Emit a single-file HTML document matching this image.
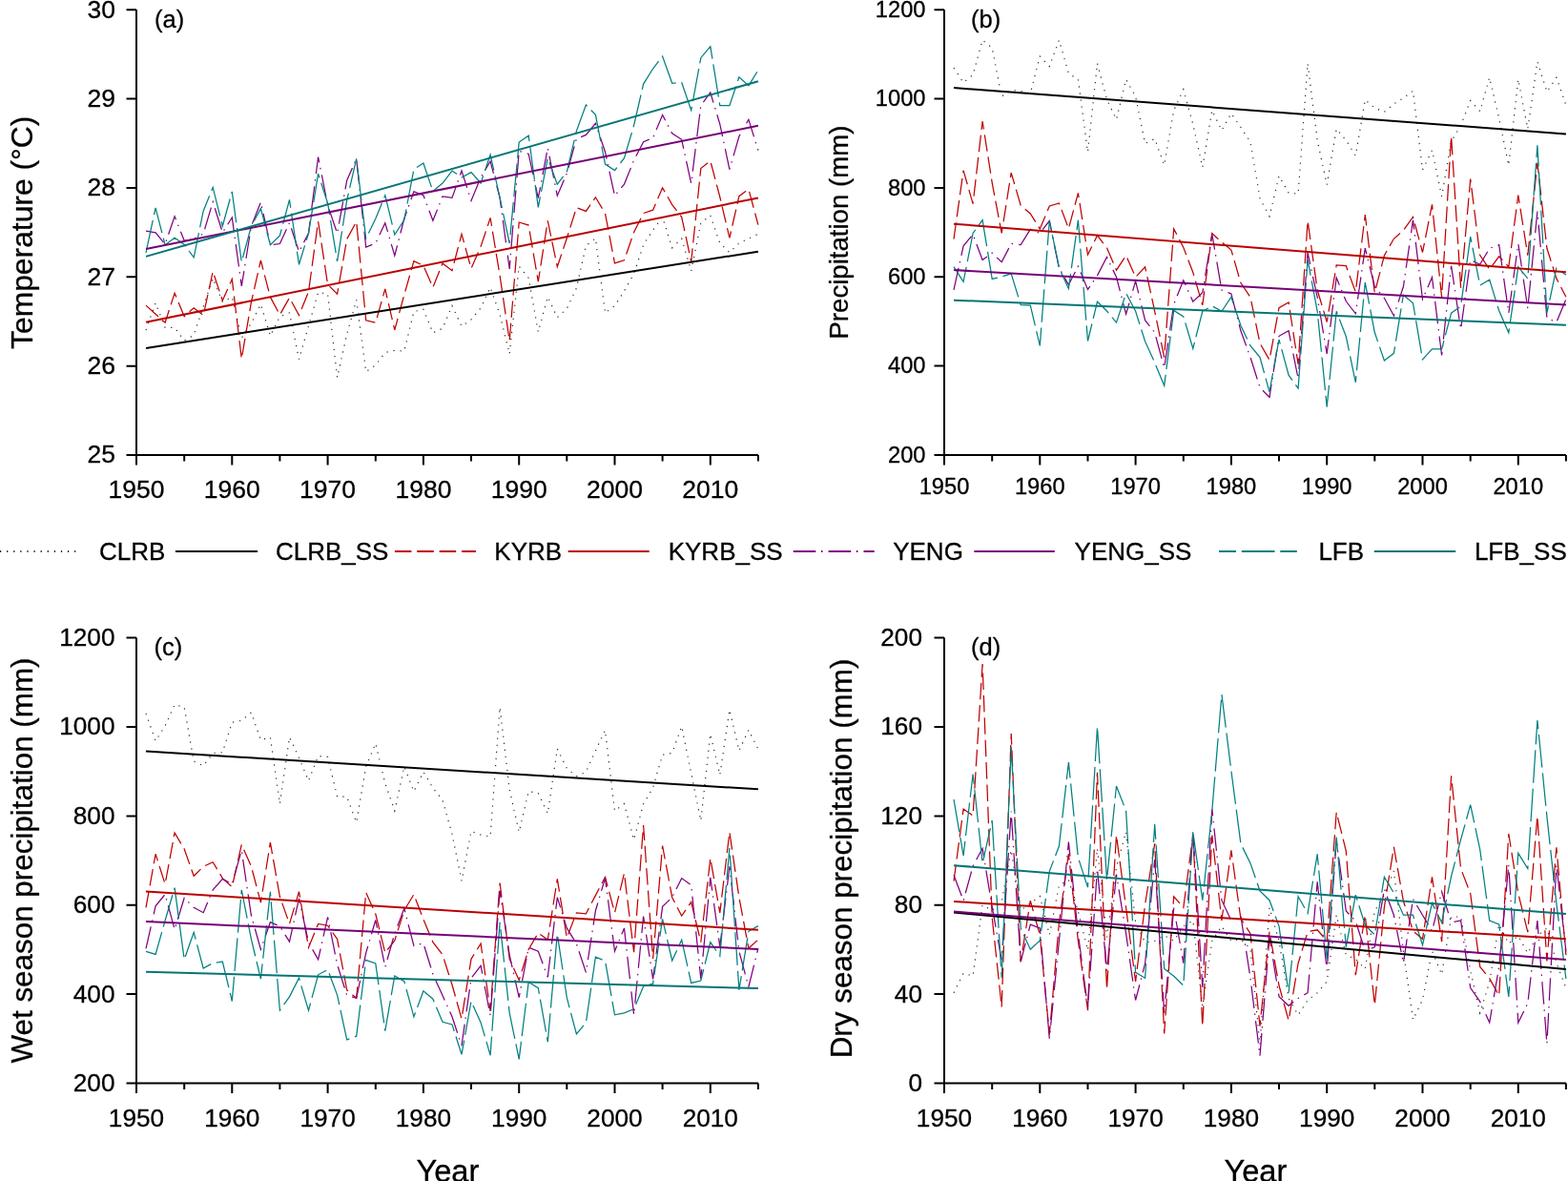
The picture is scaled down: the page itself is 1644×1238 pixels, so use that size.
<!DOCTYPE html>
<html><head><meta charset="utf-8"><title>Figure</title>
<style>
html,body{margin:0;padding:0;background:#fff;overflow:hidden;}
svg{display:block;}
text{font-family:'Liberation Sans', Arial, sans-serif;fill:#000;stroke:#000;stroke-width:0.3px;}
</style></head>
<body>
<svg width="1644" height="1238" viewBox="0 0 1644 1238">
<rect width="1644" height="1238" fill="#fff"/>
<polyline points="153.0,346.0 163.1,317.6 173.1,343.4 183.1,343.4 193.2,357.0 203.2,351.2 213.2,321.4 223.2,291.7 233.3,316.3 243.3,311.5 253.3,354.2 263.4,338.9 273.4,319.0 283.4,351.9 293.4,332.0 303.5,328.0 313.5,376.6 323.5,341.6 333.6,306.6 343.6,308.0 353.6,395.7 363.7,350.4 373.7,314.4 383.7,389.6 393.8,382.7 403.8,369.6 413.8,367.3 423.8,368.1 433.9,326.6 443.9,324.3 453.9,348.9 464.0,344.3 474.0,320.5 484.0,342.0 494.0,335.0 504.1,322.8 514.1,301.3 524.1,329.7 534.2,371.1 544.2,279.1 554.2,291.4 564.3,348.0 574.3,311.2 584.3,332.7 594.3,323.5 604.4,302.0 614.4,257.5 624.4,249.8 634.5,328.1 644.5,320.4 654.5,305.0 664.6,287.0 674.6,256.6 684.6,241.2 694.6,227.5 704.7,259.8 714.7,250.1 724.7,284.0 734.8,234.0 744.8,225.9 754.8,255.0 764.9,264.6 774.9,255.0 784.9,250.0 794.9,245.3" fill="none" stroke="#262626" stroke-width="1.20" stroke-dasharray="1.2 5.9" stroke-linejoin="miter" stroke-linecap="butt"/>
<polyline points="153.0,320.1 163.1,329.2 173.1,338.2 183.1,307.2 193.2,331.8 203.2,322.7 213.2,330.5 223.2,284.6 233.3,315.0 243.3,292.6 253.3,376.2 263.4,316.9 273.4,273.0 283.4,311.4 293.4,330.0 303.5,312.1 313.5,330.6 323.5,305.9 333.6,232.0 343.6,298.3 353.6,308.2 363.7,250.7 373.7,232.3 383.7,335.8 393.8,338.2 403.8,302.9 413.8,345.8 423.8,309.0 433.9,273.7 443.9,278.5 453.9,301.3 464.0,276.0 474.0,283.7 484.0,245.3 494.0,281.4 504.1,258.4 514.1,228.4 524.1,289.0 534.2,357.3 544.2,233.0 554.2,236.1 564.3,295.1 574.3,231.4 584.3,279.7 594.3,249.8 604.4,217.6 614.4,221.4 624.4,206.8 634.5,223.7 644.5,275.9 654.5,272.8 664.6,243.5 674.6,223.5 684.6,220.2 694.6,196.8 704.7,214.6 714.7,227.5 724.7,274.3 734.8,176.6 744.8,168.6 754.8,206.5 764.9,249.3 774.9,205.7 784.9,198.4 794.9,235.6" fill="none" stroke="#C00000" stroke-width="1.25" stroke-dasharray="17.5 5.9" stroke-linejoin="miter" stroke-linecap="butt"/>
<polyline points="153.0,242.1 163.1,243.8 173.1,256.0 183.1,226.9 193.2,252.3 203.2,250.6 213.2,245.0 223.2,211.6 233.3,243.8 243.3,228.0 253.3,300.0 263.4,237.3 273.4,211.8 283.4,256.7 293.4,255.5 303.5,233.6 313.5,263.9 323.5,244.5 333.6,164.5 343.6,215.0 353.6,244.7 363.7,189.1 373.7,166.5 383.7,259.0 393.8,255.0 403.8,233.8 413.8,268.0 423.8,229.2 433.9,200.8 443.9,204.7 453.9,231.2 464.0,205.9 474.0,207.4 484.0,179.0 494.0,210.5 504.1,186.0 514.1,169.0 524.1,207.4 534.2,282.0 544.2,158.3 554.2,161.4 564.3,207.6 574.3,155.2 584.3,205.2 594.3,181.8 604.4,145.5 614.4,141.4 624.4,129.3 634.5,159.2 644.5,205.2 654.5,193.1 664.6,168.0 674.6,148.7 684.6,144.6 694.6,120.4 704.7,139.8 714.7,146.3 724.7,192.3 734.8,110.7 744.8,97.0 754.8,130.1 764.9,177.7 774.9,143.0 784.9,125.3 794.9,157.6" fill="none" stroke="#800080" stroke-width="1.25" stroke-dasharray="23.6 5.7 1.5 6.1" stroke-linejoin="miter" stroke-linecap="butt"/>
<polyline points="153.0,264.8 163.1,217.8 173.1,256.8 183.1,249.3 193.2,256.3 203.2,269.8 213.2,221.2 223.2,196.4 233.3,237.0 243.3,200.9 253.3,274.6 263.4,237.3 273.4,218.5 283.4,256.7 293.4,247.0 303.5,209.4 313.5,277.3 323.5,244.5 333.6,182.1 343.6,213.0 353.6,273.8 363.7,209.8 373.7,166.5 383.7,250.0 393.8,229.2 403.8,204.7 413.8,246.0 423.8,230.5 433.9,177.5 443.9,171.0 453.9,200.5 464.0,192.1 474.0,179.0 484.0,186.0 494.0,180.6 504.1,192.0 514.1,162.1 524.1,207.4 534.2,255.0 544.2,149.1 554.2,142.2 564.3,217.3 574.3,165.7 584.3,193.1 594.3,180.2 604.4,137.4 614.4,110.0 624.4,120.4 634.5,172.1 644.5,178.6 654.5,165.7 664.6,131.5 674.6,88.1 684.6,72.0 694.6,59.1 704.7,87.3 714.7,86.5 724.7,115.6 734.8,60.7 744.8,48.6 754.8,110.7 764.9,110.7 774.9,80.9 784.9,89.7 794.9,73.6" fill="none" stroke="#008080" stroke-width="1.25" stroke-dasharray="34.7 5.8" stroke-linejoin="miter" stroke-linecap="butt"/>
<line x1="153.0" y1="365.0" x2="794.9" y2="263.7" stroke="#000000" stroke-width="2.0"/>
<line x1="153.0" y1="337.8" x2="794.9" y2="207.4" stroke="#BA0000" stroke-width="2.0"/>
<line x1="153.0" y1="261.0" x2="794.9" y2="131.8" stroke="#760076" stroke-width="2.0"/>
<line x1="153.0" y1="268.9" x2="794.9" y2="85.2" stroke="#067575" stroke-width="2.0"/>
<path d="M143.0 10.3 V477.0 H794.9" fill="none" stroke="#000" stroke-width="2.0"/>
<path d="M132.5 477.0 H143.0 M132.5 383.7 H143.0 M132.5 290.3 H143.0 M132.5 197.0 H143.0 M132.5 103.6 H143.0 M132.5 10.3 H143.0 M143.0 477.0 V487.5 M193.2 477.0 V483.5 M243.3 477.0 V487.5 M293.4 477.0 V483.5 M343.6 477.0 V487.5 M393.8 477.0 V483.5 M443.9 477.0 V487.5 M494.0 477.0 V483.5 M544.2 477.0 V487.5 M594.3 477.0 V483.5 M644.5 477.0 V487.5 M694.6 477.0 V483.5 M744.8 477.0 V487.5 M794.9 477.0 V483.5" fill="none" stroke="#000" stroke-width="2"/>
<text x="121.0" y="485.4" font-size="26.5" text-anchor="end">25</text>
<text x="121.0" y="392.1" font-size="26.5" text-anchor="end">26</text>
<text x="121.0" y="298.7" font-size="26.5" text-anchor="end">27</text>
<text x="121.0" y="205.4" font-size="26.5" text-anchor="end">28</text>
<text x="121.0" y="112.1" font-size="26.5" text-anchor="end">29</text>
<text x="121.0" y="18.7" font-size="26.5" text-anchor="end">30</text>
<text x="143.0" y="522.3" font-size="26.5" text-anchor="middle">1950</text>
<text x="243.3" y="522.3" font-size="26.5" text-anchor="middle">1960</text>
<text x="343.6" y="522.3" font-size="26.5" text-anchor="middle">1970</text>
<text x="443.9" y="522.3" font-size="26.5" text-anchor="middle">1980</text>
<text x="544.2" y="522.3" font-size="26.5" text-anchor="middle">1990</text>
<text x="644.5" y="522.3" font-size="26.5" text-anchor="middle">2000</text>
<text x="744.8" y="522.3" font-size="26.5" text-anchor="middle">2010</text>
<text transform="translate(34.0 243.8) rotate(-90)" font-size="31.8" text-anchor="middle">Temperature (°C)</text>
<text x="162.0" y="28.5" font-size="25.5">(a)</text>
<polyline points="1000.0,71.2 1010.1,86.6 1020.1,78.5 1030.1,42.1 1040.2,50.2 1050.2,101.1 1060.2,94.6 1070.2,95.4 1080.3,97.9 1090.3,59.1 1100.3,69.6 1110.4,42.1 1120.4,76.9 1130.4,83.3 1140.5,159.3 1150.5,66.4 1160.5,104.3 1170.5,125.3 1180.6,83.3 1190.6,101.1 1200.6,150.4 1210.7,145.5 1220.7,173.0 1230.7,115.7 1240.8,93.8 1250.8,130.2 1260.8,175.4 1270.8,115.7 1280.9,136.7 1290.9,118.9 1300.9,133.4 1311.0,148.8 1321.0,208.1 1331.0,226.8 1341.0,184.4 1351.1,202.2 1361.1,203.1 1371.1,66.5 1381.2,147.1 1391.2,193.7 1401.2,135.2 1411.3,147.1 1421.3,163.2 1431.3,104.7 1441.3,113.1 1451.4,117.4 1461.4,108.9 1471.4,102.7 1481.5,95.3 1491.5,178.0 1501.5,157.5 1511.6,205.9 1521.6,148.3 1531.6,131.5 1541.7,105.5 1551.7,116.7 1561.7,81.3 1571.7,124.1 1581.8,173.3 1591.8,83.2 1601.8,135.2 1611.9,64.6 1621.9,96.2 1631.9,81.3 1641.9,110.1" fill="none" stroke="#262626" stroke-width="1.20" stroke-dasharray="1.2 5.9" stroke-linejoin="miter" stroke-linecap="butt"/>
<polyline points="1000.0,250.6 1010.1,178.7 1020.1,213.6 1030.1,127.0 1040.2,191.6 1050.2,244.5 1060.2,181.1 1070.2,215.4 1080.3,223.9 1090.3,240.0 1100.3,216.0 1110.4,212.9 1120.4,239.6 1130.4,202.4 1140.5,267.0 1150.5,246.8 1160.5,259.8 1170.5,283.2 1180.6,267.9 1190.6,290.5 1200.6,279.9 1210.7,326.3 1220.7,374.6 1230.7,239.9 1240.8,259.4 1250.8,285.5 1260.8,319.8 1270.8,244.6 1280.9,253.9 1290.9,262.0 1300.9,296.6 1311.0,311.5 1321.0,359.8 1331.0,377.4 1341.0,322.6 1351.1,317.0 1361.1,382.0 1371.1,231.6 1381.2,304.0 1391.2,337.5 1401.2,278.0 1411.3,278.7 1421.3,306.0 1431.3,225.2 1441.3,307.0 1451.4,267.8 1461.4,250.3 1471.4,241.6 1481.5,227.4 1491.5,264.5 1501.5,214.3 1511.6,311.4 1521.6,142.7 1531.6,301.6 1541.7,187.6 1551.7,267.6 1561.7,282.2 1571.7,268.8 1581.8,279.7 1591.8,204.6 1601.8,267.6 1611.9,170.6 1621.9,260.3 1631.9,291.9 1641.9,311.3" fill="none" stroke="#C00000" stroke-width="1.25" stroke-dasharray="17.5 5.9" stroke-linejoin="miter" stroke-linecap="butt"/>
<polyline points="1000.0,303.9 1010.1,257.8 1020.1,245.7 1030.1,272.4 1040.2,265.1 1050.2,274.8 1060.2,255.4 1070.2,256.6 1080.3,240.3 1090.3,244.5 1100.3,231.5 1110.4,280.8 1120.4,298.5 1130.4,279.2 1140.5,303.4 1150.5,288.9 1160.5,269.5 1170.5,290.5 1180.6,329.2 1190.6,294.7 1200.6,335.6 1210.7,348.6 1220.7,385.8 1230.7,318.9 1240.8,293.8 1250.8,316.1 1260.8,306.8 1270.8,245.5 1280.9,304.0 1290.9,308.0 1300.9,346.8 1311.0,374.6 1321.0,406.2 1331.0,416.4 1341.0,352.3 1351.1,346.8 1361.1,396.9 1371.1,265.0 1381.2,311.5 1391.2,370.9 1401.2,291.0 1411.3,315.8 1421.3,328.8 1431.3,260.1 1441.3,300.5 1451.4,312.5 1461.4,331.0 1471.4,300.5 1481.5,230.7 1491.5,313.6 1501.5,290.7 1511.6,372.5 1521.6,278.7 1531.6,345.2 1541.7,272.5 1551.7,277.3 1561.7,260.3 1571.7,256.7 1581.8,328.2 1591.8,255.5 1601.8,323.4 1611.9,221.5 1621.9,333.1 1631.9,337.9 1641.9,313.7" fill="none" stroke="#800080" stroke-width="1.25" stroke-dasharray="23.6 5.7 1.5 6.1" stroke-linejoin="miter" stroke-linecap="butt"/>
<polyline points="1000.0,279.6 1010.1,295.4 1020.1,244.5 1030.1,230.6 1040.2,292.4 1050.2,290.0 1060.2,286.9 1070.2,319.6 1080.3,320.2 1090.3,362.4 1100.3,231.5 1110.4,280.8 1120.4,302.6 1130.4,230.7 1140.5,357.5 1150.5,316.3 1160.5,326.0 1170.5,338.1 1180.6,307.4 1190.6,326.3 1200.6,357.9 1210.7,380.2 1220.7,404.3 1230.7,325.4 1240.8,331.9 1250.8,365.3 1260.8,326.3 1270.8,320.8 1280.9,326.3 1290.9,311.5 1300.9,341.2 1311.0,362.5 1321.0,374.6 1331.0,410.8 1341.0,356.0 1351.1,393.2 1361.1,407.1 1371.1,272.4 1381.2,326.3 1391.2,426.6 1401.2,326.3 1411.3,352.8 1421.3,400.8 1431.3,296.1 1441.3,348.5 1451.4,377.9 1461.4,370.3 1471.4,309.2 1481.5,317.9 1491.5,376.8 1501.5,365.9 1511.6,365.9 1521.6,328.2 1531.6,321.0 1541.7,248.2 1551.7,299.1 1561.7,293.1 1571.7,325.8 1581.8,348.8 1591.8,279.7 1601.8,291.9 1611.9,152.4 1621.9,328.2 1631.9,281.0 1641.9,288.2" fill="none" stroke="#008080" stroke-width="1.25" stroke-dasharray="34.7 5.8" stroke-linejoin="miter" stroke-linecap="butt"/>
<line x1="1000.0" y1="92.1" x2="1641.9" y2="140.5" stroke="#000000" stroke-width="2.0"/>
<line x1="1000.0" y1="234.7" x2="1641.9" y2="285.3" stroke="#BA0000" stroke-width="2.0"/>
<line x1="1000.0" y1="283.1" x2="1641.9" y2="319.6" stroke="#760076" stroke-width="2.0"/>
<line x1="1000.0" y1="314.7" x2="1641.9" y2="340.8" stroke="#067575" stroke-width="2.0"/>
<path d="M990.0 10.2 V477.0 H1641.9" fill="none" stroke="#000" stroke-width="2.0"/>
<path d="M979.5 477.0 H990.0 M979.5 383.6 H990.0 M979.5 290.3 H990.0 M979.5 196.9 H990.0 M979.5 103.6 H990.0 M979.5 10.2 H990.0 M990.0 477.0 V487.5 M1040.2 477.0 V483.5 M1090.3 477.0 V487.5 M1140.5 477.0 V483.5 M1190.6 477.0 V487.5 M1240.8 477.0 V483.5 M1290.9 477.0 V487.5 M1341.0 477.0 V483.5 M1391.2 477.0 V487.5 M1441.3 477.0 V483.5 M1491.5 477.0 V487.5 M1541.7 477.0 V483.5 M1591.8 477.0 V487.5 M1641.9 477.0 V483.5" fill="none" stroke="#000" stroke-width="2"/>
<text x="970.5" y="484.5" font-size="23.7" text-anchor="end">200</text>
<text x="970.5" y="391.2" font-size="23.7" text-anchor="end">400</text>
<text x="970.5" y="297.8" font-size="23.7" text-anchor="end">600</text>
<text x="970.5" y="204.5" font-size="23.7" text-anchor="end">800</text>
<text x="970.5" y="111.1" font-size="23.7" text-anchor="end">1000</text>
<text x="970.5" y="17.7" font-size="23.7" text-anchor="end">1200</text>
<text x="990.0" y="518.0" font-size="23.7" text-anchor="middle">1950</text>
<text x="1090.3" y="518.0" font-size="23.7" text-anchor="middle">1960</text>
<text x="1190.6" y="518.0" font-size="23.7" text-anchor="middle">1970</text>
<text x="1290.9" y="518.0" font-size="23.7" text-anchor="middle">1980</text>
<text x="1391.2" y="518.0" font-size="23.7" text-anchor="middle">1990</text>
<text x="1491.5" y="518.0" font-size="23.7" text-anchor="middle">2000</text>
<text x="1591.8" y="518.0" font-size="23.7" text-anchor="middle">2010</text>
<text transform="translate(889.4 243.6) rotate(-90)" font-size="27.6" text-anchor="middle">Precipitation (mm)</text>
<text x="1018.0" y="28.5" font-size="25.5">(b)</text>
<polyline points="153.0,747.9 163.1,776.7 173.1,760.9 183.1,738.6 193.2,741.4 203.2,798.0 213.2,802.7 223.2,789.7 233.3,788.7 243.3,757.2 253.3,755.3 263.4,746.9 273.4,775.7 283.4,772.9 293.4,842.6 303.5,772.9 313.5,794.3 323.5,818.5 333.6,792.5 343.6,793.4 353.6,835.2 363.7,835.2 373.7,862.1 383.7,803.6 393.8,779.4 403.8,821.2 413.8,850.0 423.8,803.6 433.9,829.6 443.9,809.2 453.9,825.9 464.0,838.9 474.0,874.2 484.0,923.4 494.0,871.4 504.1,875.1 514.1,877.0 524.1,741.4 534.2,827.7 544.2,872.3 554.2,829.6 564.3,831.5 574.3,852.8 584.3,785.0 594.3,805.5 604.4,813.8 614.4,809.2 624.4,786.9 634.5,765.5 644.5,850.0 654.5,842.6 664.6,880.3 674.6,842.7 684.6,825.8 694.6,791.2 704.7,789.4 714.7,761.5 724.7,810.6 734.8,860.3 744.8,769.4 754.8,812.4 764.9,743.9 774.9,787.0 784.9,765.2 794.9,785.2" fill="none" stroke="#262626" stroke-width="1.20" stroke-dasharray="1.2 5.9" stroke-linejoin="miter" stroke-linecap="butt"/>
<polyline points="153.0,951.3 163.1,895.3 173.1,926.8 183.1,873.0 193.2,890.0 203.2,918.3 213.2,908.4 223.2,903.8 233.3,920.6 243.3,929.8 253.3,885.3 263.4,908.0 273.4,946.2 283.4,883.1 293.4,940.0 303.5,968.4 313.5,934.7 323.5,993.3 333.6,968.4 343.6,970.2 353.6,984.4 363.7,1037.8 373.7,1046.3 383.7,935.7 393.8,958.0 403.8,998.9 413.8,985.9 423.8,954.3 433.9,937.6 443.9,963.6 453.9,987.7 464.0,1000.8 474.0,1032.3 484.0,1067.9 494.0,1005.3 504.1,989.1 514.1,1059.8 524.1,925.5 534.2,1005.3 544.2,1027.5 554.2,995.2 564.3,978.0 574.3,985.1 584.3,921.4 594.3,983.0 604.4,956.8 614.4,957.8 624.4,938.6 634.5,919.4 644.5,956.8 654.5,915.4 664.6,998.2 674.6,865.0 684.6,1005.0 694.6,886.6 704.7,940.7 714.7,960.1 724.7,945.6 734.8,987.6 744.8,899.6 754.8,956.9 764.9,872.1 774.9,940.7 784.9,994.0 794.9,985.0" fill="none" stroke="#C00000" stroke-width="1.25" stroke-dasharray="17.5 5.9" stroke-linejoin="miter" stroke-linecap="butt"/>
<polyline points="153.0,994.3 163.1,949.8 173.1,937.5 183.1,974.3 193.2,941.3 203.2,951.3 213.2,956.7 223.2,932.9 233.3,921.4 243.3,926.8 253.3,891.5 263.4,959.6 273.4,995.1 283.4,966.7 293.4,971.1 303.5,987.1 313.5,941.8 323.5,988.0 333.6,1005.8 343.6,961.3 353.6,1011.1 363.7,1043.1 373.7,1046.3 383.7,998.9 393.8,964.5 403.8,1013.8 413.8,978.5 423.8,952.4 433.9,991.5 443.9,988.7 453.9,1021.2 464.0,1043.5 474.0,1065.8 484.0,1096.2 494.0,1025.5 504.1,1012.3 514.1,1064.8 524.1,933.5 534.2,1001.2 544.2,1045.7 554.2,993.1 564.3,997.2 574.3,1024.4 584.3,940.6 594.3,972.9 604.4,989.1 614.4,1019.4 624.4,954.7 634.5,920.4 644.5,997.2 654.5,972.9 664.6,1063.8 674.6,960.5 684.6,1026.3 694.6,950.4 704.7,940.7 714.7,920.6 724.7,927.8 734.8,1026.3 744.8,919.8 754.8,992.4 764.9,908.4 774.9,997.3 784.9,1034.4 794.9,994.0" fill="none" stroke="#800080" stroke-width="1.25" stroke-dasharray="23.6 5.7 1.5 6.1" stroke-linejoin="miter" stroke-linecap="butt"/>
<polyline points="153.0,997.3 163.1,1000.4 173.1,965.0 183.1,930.6 193.2,1005.8 203.2,977.4 213.2,1015.0 223.2,1009.6 233.3,1008.0 243.3,1049.5 253.3,932.9 263.4,984.4 273.4,1026.2 283.4,934.7 293.4,1059.1 303.5,1044.9 313.5,1025.3 323.5,1059.1 333.6,1021.8 343.6,1016.4 353.6,1043.1 363.7,1089.9 373.7,1086.2 383.7,1006.3 393.8,1010.0 403.8,1080.6 413.8,1023.0 423.8,1028.6 433.9,1065.8 443.9,1038.8 453.9,1047.2 464.0,1071.3 474.0,1073.9 484.0,1105.3 494.0,1049.7 504.1,1071.9 514.1,1106.3 524.1,966.9 534.2,1061.8 544.2,1110.3 554.2,1029.5 564.3,1035.6 574.3,1092.1 584.3,979.0 594.3,1045.7 604.4,1084.0 614.4,1071.9 624.4,1003.2 634.5,1007.3 644.5,1063.8 654.5,1061.8 664.6,1057.8 674.6,1034.0 684.6,1031.2 694.6,963.4 704.7,1007.0 714.7,985.2 724.7,1030.4 734.8,1028.0 744.8,987.6 754.8,1002.1 764.9,889.1 774.9,1037.6 784.9,976.3 794.9,970.6" fill="none" stroke="#008080" stroke-width="1.25" stroke-dasharray="34.7 5.8" stroke-linejoin="miter" stroke-linecap="butt"/>
<line x1="153.0" y1="787.5" x2="794.9" y2="827.3" stroke="#000000" stroke-width="2.0"/>
<line x1="153.0" y1="934.5" x2="794.9" y2="974.8" stroke="#BA0000" stroke-width="2.0"/>
<line x1="153.0" y1="966.0" x2="794.9" y2="994.9" stroke="#760076" stroke-width="2.0"/>
<line x1="153.0" y1="1018.8" x2="794.9" y2="1036.1" stroke="#067575" stroke-width="2.0"/>
<path d="M143.0 668.6 V1135.5 H794.9" fill="none" stroke="#000" stroke-width="2.0"/>
<path d="M132.5 1135.5 H143.0 M132.5 1042.1 H143.0 M132.5 948.7 H143.0 M132.5 855.4 H143.0 M132.5 762.0 H143.0 M132.5 668.6 H143.0 M143.0 1135.5 V1146.0 M193.2 1135.5 V1142.0 M243.3 1135.5 V1146.0 M293.4 1135.5 V1142.0 M343.6 1135.5 V1146.0 M393.8 1135.5 V1142.0 M443.9 1135.5 V1146.0 M494.0 1135.5 V1142.0 M544.2 1135.5 V1146.0 M594.3 1135.5 V1142.0 M644.5 1135.5 V1146.0 M694.6 1135.5 V1142.0 M744.8 1135.5 V1146.0 M794.9 1135.5 V1142.0" fill="none" stroke="#000" stroke-width="2"/>
<text x="120.5" y="1143.8" font-size="26.2" text-anchor="end">200</text>
<text x="120.5" y="1050.5" font-size="26.2" text-anchor="end">400</text>
<text x="120.5" y="957.1" font-size="26.2" text-anchor="end">600</text>
<text x="120.5" y="863.7" font-size="26.2" text-anchor="end">800</text>
<text x="120.5" y="770.3" font-size="26.2" text-anchor="end">1000</text>
<text x="120.5" y="676.9" font-size="26.2" text-anchor="end">1200</text>
<text x="143.0" y="1181.0" font-size="26.2" text-anchor="middle">1950</text>
<text x="243.3" y="1181.0" font-size="26.2" text-anchor="middle">1960</text>
<text x="343.6" y="1181.0" font-size="26.2" text-anchor="middle">1970</text>
<text x="443.9" y="1181.0" font-size="26.2" text-anchor="middle">1980</text>
<text x="544.2" y="1181.0" font-size="26.2" text-anchor="middle">1990</text>
<text x="644.5" y="1181.0" font-size="26.2" text-anchor="middle">2000</text>
<text x="744.8" y="1181.0" font-size="26.2" text-anchor="middle">2010</text>
<text transform="translate(34.0 902.0) rotate(-90)" font-size="31.4" text-anchor="middle">Wet season precipitation (mm)</text>
<text x="161.5" y="686.9" font-size="25.5">(c)</text>
<polyline points="1000.0,1040.7 1010.1,1020.3 1020.1,1023.0 1030.1,948.7 1040.2,954.3 1050.2,945.0 1060.2,891.0 1070.2,954.3 1080.3,946.9 1090.3,939.5 1100.3,980.0 1110.4,928.2 1120.4,922.4 1130.4,955.4 1140.5,996.1 1150.5,889.4 1160.5,982.5 1170.5,908.8 1180.6,872.0 1190.6,967.0 1200.6,988.0 1210.7,986.4 1220.7,980.6 1230.7,986.4 1240.8,970.9 1250.8,965.0 1260.8,1055.0 1270.8,986.4 1280.9,970.9 1290.9,986.4 1300.9,984.5 1311.0,994.2 1321.0,1095.0 1331.0,951.5 1341.0,986.4 1351.1,1046.5 1361.1,1064.0 1371.1,1048.5 1381.2,1040.7 1391.2,1029.0 1401.2,959.2 1411.3,1001.1 1421.3,1005.3 1431.3,1015.8 1441.3,955.0 1451.4,938.2 1461.4,913.0 1471.4,997.0 1481.5,1069.0 1491.5,1048.0 1501.5,997.0 1511.6,1021.5 1521.6,961.0 1531.6,961.0 1541.7,1017.5 1551.7,1061.9 1561.7,1029.6 1571.7,969.0 1581.8,989.2 1591.8,981.0 1601.8,999.3 1611.9,981.0 1621.9,973.0 1631.9,1009.4 1641.9,1035.6" fill="none" stroke="#262626" stroke-width="1.20" stroke-dasharray="1.2 5.9" stroke-linejoin="miter" stroke-linecap="butt"/>
<polyline points="1000.0,923.7 1010.1,848.0 1020.1,855.0 1030.1,696.0 1040.2,961.8 1050.2,1055.6 1060.2,768.9 1070.2,1008.2 1080.3,944.1 1090.3,980.3 1100.3,1084.5 1110.4,967.0 1120.4,895.2 1130.4,986.4 1140.5,1059.1 1150.5,809.7 1160.5,1036.8 1170.5,875.5 1180.6,951.5 1190.6,1029.0 1200.6,948.0 1210.7,884.4 1220.7,1083.4 1230.7,939.8 1240.8,951.5 1250.8,875.5 1260.8,1075.6 1270.8,875.5 1280.9,965.0 1290.9,891.3 1300.9,963.1 1311.0,978.6 1321.0,1075.6 1331.0,976.7 1341.0,1033.0 1351.1,1069.8 1361.1,1009.7 1371.1,976.7 1381.2,974.8 1391.2,986.4 1401.2,851.5 1411.3,892.0 1421.3,1022.1 1431.3,959.2 1441.3,1053.6 1451.4,950.8 1461.4,887.8 1471.4,944.5 1481.5,976.0 1491.5,984.3 1501.5,919.3 1511.6,987.2 1521.6,813.3 1531.6,910.5 1541.7,936.7 1551.7,1013.4 1561.7,1025.6 1571.7,1043.7 1581.8,874.1 1591.8,936.7 1601.8,977.1 1611.9,855.4 1621.9,1007.4 1631.9,888.3 1641.9,1001.3" fill="none" stroke="#C00000" stroke-width="1.25" stroke-dasharray="17.5 5.9" stroke-linejoin="miter" stroke-linecap="butt"/>
<polyline points="1000.0,917.2 1010.1,944.1 1020.1,907.9 1030.1,889.3 1040.2,950.6 1050.2,1006.3 1060.2,850.6 1070.2,1008.2 1080.3,969.2 1090.3,972.9 1100.3,1088.6 1110.4,986.4 1120.4,882.6 1130.4,978.6 1140.5,1056.2 1150.5,910.7 1160.5,1017.4 1170.5,916.6 1180.6,978.6 1190.6,1048.5 1200.6,1010.0 1210.7,901.0 1220.7,1062.0 1230.7,951.5 1240.8,1009.7 1250.8,872.0 1260.8,1034.9 1270.8,848.0 1280.9,943.7 1290.9,965.0 1300.9,960.2 1311.0,1025.2 1321.0,1106.7 1331.0,982.5 1341.0,1044.6 1351.1,1054.3 1361.1,1046.5 1371.1,1040.7 1381.2,924.3 1391.2,1017.4 1401.2,881.6 1411.3,955.0 1421.3,965.4 1431.3,997.0 1441.3,992.7 1451.4,931.9 1461.4,959.2 1471.4,1009.5 1481.5,942.4 1491.5,959.2 1501.5,976.0 1511.6,934.7 1521.6,967.0 1531.6,965.0 1541.7,1035.6 1551.7,1049.8 1561.7,1072.0 1571.7,1013.4 1581.8,906.4 1591.8,1072.0 1601.8,1051.8 1611.9,965.0 1621.9,1094.2 1631.9,906.4 1641.9,997.3" fill="none" stroke="#800080" stroke-width="1.25" stroke-dasharray="23.6 5.7 1.5 6.1" stroke-linejoin="miter" stroke-linecap="butt"/>
<polyline points="1000.0,838.0 1010.1,897.0 1020.1,811.5 1030.1,905.0 1040.2,860.0 1050.2,1025.0 1060.2,783.1 1070.2,972.9 1080.3,995.2 1090.3,985.9 1100.3,913.4 1110.4,887.0 1120.4,799.1 1130.4,899.0 1140.5,930.1 1150.5,761.7 1160.5,922.4 1170.5,824.0 1180.6,850.0 1190.6,1019.4 1200.6,1025.2 1210.7,864.0 1220.7,1015.5 1230.7,1023.3 1240.8,1033.0 1250.8,872.0 1260.8,943.7 1270.8,850.0 1280.9,728.0 1290.9,808.0 1300.9,884.4 1311.0,904.9 1321.0,934.0 1331.0,943.7 1341.0,970.9 1351.1,1040.7 1361.1,939.8 1371.1,957.3 1381.2,895.2 1391.2,1005.8 1401.2,877.5 1411.3,992.7 1421.3,938.2 1431.3,969.6 1441.3,980.1 1451.4,919.3 1461.4,936.1 1471.4,959.2 1481.5,959.2 1491.5,990.6 1501.5,946.6 1511.6,967.0 1521.6,918.6 1531.6,880.2 1541.7,843.7 1551.7,890.3 1561.7,965.0 1571.7,969.0 1581.8,1045.0 1591.8,894.3 1601.8,910.5 1611.9,755.0 1621.9,856.0 1631.9,947.0 1641.9,1026.0" fill="none" stroke="#008080" stroke-width="1.25" stroke-dasharray="34.7 5.8" stroke-linejoin="miter" stroke-linecap="butt"/>
<line x1="1000.0" y1="956.5" x2="1641.9" y2="1016.0" stroke="#000000" stroke-width="2.0"/>
<line x1="1000.0" y1="944.9" x2="1641.9" y2="984.3" stroke="#BA0000" stroke-width="2.0"/>
<line x1="1000.0" y1="955.5" x2="1641.9" y2="1006.0" stroke="#760076" stroke-width="2.0"/>
<line x1="1000.0" y1="907.2" x2="1641.9" y2="958.1" stroke="#067575" stroke-width="2.0"/>
<path d="M990.0 668.6 V1135.5 H1641.9" fill="none" stroke="#000" stroke-width="2.0"/>
<path d="M979.5 1135.5 H990.0 M979.5 1042.1 H990.0 M979.5 948.7 H990.0 M979.5 855.4 H990.0 M979.5 762.0 H990.0 M979.5 668.6 H990.0 M990.0 1135.5 V1146.0 M1040.2 1135.5 V1142.0 M1090.3 1135.5 V1146.0 M1140.5 1135.5 V1142.0 M1190.6 1135.5 V1146.0 M1240.8 1135.5 V1142.0 M1290.9 1135.5 V1146.0 M1341.0 1135.5 V1142.0 M1391.2 1135.5 V1146.0 M1441.3 1135.5 V1142.0 M1491.5 1135.5 V1146.0 M1541.7 1135.5 V1142.0 M1591.8 1135.5 V1146.0 M1641.9 1135.5 V1142.0" fill="none" stroke="#000" stroke-width="2"/>
<text x="967.0" y="1143.8" font-size="26.2" text-anchor="end">0</text>
<text x="967.0" y="1050.5" font-size="26.2" text-anchor="end">40</text>
<text x="967.0" y="957.1" font-size="26.2" text-anchor="end">80</text>
<text x="967.0" y="863.7" font-size="26.2" text-anchor="end">120</text>
<text x="967.0" y="770.3" font-size="26.2" text-anchor="end">160</text>
<text x="967.0" y="676.9" font-size="26.2" text-anchor="end">200</text>
<text x="990.0" y="1180.8" font-size="26.2" text-anchor="middle">1950</text>
<text x="1090.3" y="1180.8" font-size="26.2" text-anchor="middle">1960</text>
<text x="1190.6" y="1180.8" font-size="26.2" text-anchor="middle">1970</text>
<text x="1290.9" y="1180.8" font-size="26.2" text-anchor="middle">1980</text>
<text x="1391.2" y="1180.8" font-size="26.2" text-anchor="middle">1990</text>
<text x="1491.5" y="1180.8" font-size="26.2" text-anchor="middle">2000</text>
<text x="1591.8" y="1180.8" font-size="26.2" text-anchor="middle">2010</text>
<text transform="translate(893.0 900.0) rotate(-90)" font-size="31.4" text-anchor="middle">Dry season precipitation (mm)</text>
<text x="1018.0" y="686.9" font-size="25.5">(d)</text>
<text x="469.4" y="1238.6" font-size="32.7" text-anchor="middle">Year</text>
<text x="1316.4" y="1238.6" font-size="32.7" text-anchor="middle">Year</text>
<line x1="0.0" y1="578.0" x2="79.5" y2="578.0" stroke="#262626" stroke-width="2.00" stroke-dasharray="1.2 5.9" stroke-dashoffset="0.0"/>
<text x="104.1" y="586.5" font-size="26.0">CLRB</text>
<line x1="184.0" y1="578.0" x2="270.0" y2="578.0" stroke="#000000" stroke-width="2.2"/>
<text x="288.9" y="586.5" font-size="26.0">CLRB_SS</text>
<line x1="413.9" y1="578.0" x2="499.0" y2="578.0" stroke="#C00000" stroke-width="1.80" stroke-dasharray="17.5 5.9" stroke-dashoffset="0.0"/>
<text x="518.3" y="586.5" font-size="26.0">KYRB</text>
<line x1="595.7" y1="578.0" x2="680.7" y2="578.0" stroke="#BA0000" stroke-width="2.2"/>
<text x="700.7" y="586.5" font-size="26.0">KYRB_SS</text>
<line x1="831.7" y1="578.0" x2="916.7" y2="578.0" stroke="#800080" stroke-width="1.80" stroke-dasharray="23.6 5.7 1.5 6.1" stroke-dashoffset="0.0"/>
<text x="936.2" y="586.5" font-size="26.0">YENG</text>
<line x1="1021.4" y1="578.0" x2="1105.8" y2="578.0" stroke="#760076" stroke-width="2.2"/>
<text x="1126.6" y="586.5" font-size="26.0">YENG_SS</text>
<line x1="1278.0" y1="578.0" x2="1359.8" y2="578.0" stroke="#008080" stroke-width="1.80" stroke-dasharray="34.7 5.8" stroke-dashoffset="16.7"/>
<text x="1382.4" y="586.5" font-size="26.0">LFB</text>
<line x1="1440.8" y1="578.0" x2="1526.2" y2="578.0" stroke="#067575" stroke-width="2.2"/>
<text x="1545.9" y="586.5" font-size="26.0">LFB_SS</text>
</svg>
</body></html>
